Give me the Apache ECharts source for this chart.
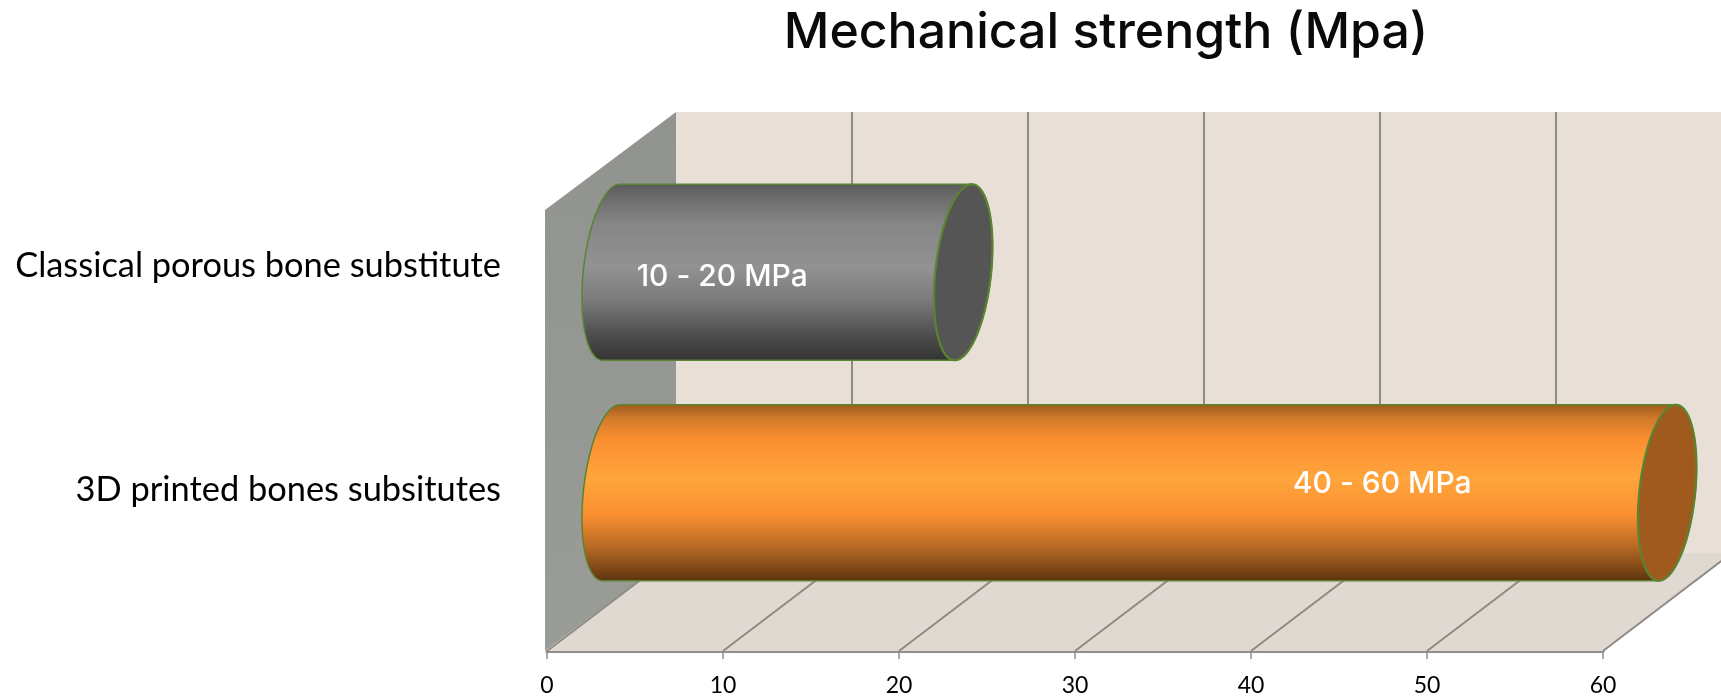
<!DOCTYPE html>
<html><head><meta charset="utf-8">
<style>html,body{margin:0;padding:0;background:#fff}#c{width:1721px;height:696px}</style>
<script src="https://cdn.jsdelivr.net/npm/echarts@6/dist/echarts.min.js"></script>
</head><body><div id="c"></div>
<script>
const titleText = 'Mechanical strength (Mpa)';
const categories = ['Classical porous bone substitute', '3D printed bones subsitutes'];
const strength = [20, 60];
const rangeLabels = ['10 - 20 MPa', '40 - 60 MPa'];
const xTicks = [0, 10, 20, 30, 40, 50, 60];

const DX = 129, DY = 98;           // 3D depth of the chart box
const HALF_W = 28, TILT = 8.5;     // cylinder end ellipse
const BAR_H = 176;
const labelBack = [241, 285], labelDy = [5, -9];
const fills = [
  { end:'#555555', stops:[[0,'#5a5a5a'],[.08,'#6c6c6c'],[.22,'#858585'],[.47,'#929292'],[.66,'#7a7a7a'],[.85,'#4e4e4e'],[1,'#333333']] },
  { end:'#A05A1E', stops:[[0,'#9c5a1e'],[.08,'#d07a2a'],[.2,'#fb8f30'],[.42,'#ffa53c'],[.62,'#fc8f30'],[.8,'#b96b25'],[1,'#5c330f']] }
];
const EDGE = '#5b8431';

function halfEllipse(cx, cy, from, to) {
  const pts = [];
  for (let d = from; d <= to + 1e-6; d += 3) {
    const t = d * Math.PI / 180;
    pts.push([cx + HALF_W * Math.cos(t) - TILT * Math.sin(t), cy + BAR_H / 2 * Math.sin(t)]);
  }
  return pts;
}

function renderBox(params, api) {
  const cs = params.coordSys;
  const x0 = cs.x, x1 = cs.x + cs.width, top = cs.y, bot = cs.y + cs.height;
  const line = { stroke:'#8f8a82', lineWidth:2 };
  const children = [
    { type:'rect', shape:{ x:x0 + DX, y:top - DY, width:cs.width + 10, height:cs.height }, style:{ fill:'#e8e0d7' } },
    { type:'polygon', shape:{ points:[[x0, bot],[x1, bot],[x1 + DX, bot - DY],[x0 + DX, bot - DY]] }, style:{ fill:'#e0d9d2' } },
    { type:'polygon', shape:{ points:[[x0 - 2, top],[x0 + DX, top - DY],[x0 + DX, bot - DY],[x0 - 2, bot]] },
      style:{ fill:new echarts.graphic.LinearGradient(0, 0, 0, 1, [{ offset:0, color:'#90938e' },{ offset:1, color:'#999c97' }]) } }
  ];
  xTicks.forEach(v => {
    const x = api.coord([v, 0])[0];
    if (v > 0) children.push({ type:'line', shape:{ x1:x + DX, y1:top - DY, x2:x + DX, y2:bot - DY }, style:line });
    children.push({ type:'line', shape:{ x1:x, y1:bot, x2:x + DX, y2:bot - DY }, style:line });
  });
  return { type:'group', children };
}

function renderCylinder(params, api) {
  const i = params.dataIndex;
  const p0 = api.coord([0, api.value(1)]);
  const p1 = api.coord([api.value(0), api.value(1)]);
  const cx0 = p0[0] + DX / 2 - 0.3, cx1 = p1[0] + DX / 2 - 0.3, cy = p0[1] - DY / 2 + 1;
  const f = fills[i];
  const body = halfEllipse(cx0, cy, 90, 270).concat(halfEllipse(cx1, cy, -90, 90));
  const grad = new echarts.graphic.LinearGradient(0, 0, 0, 1, f.stops.map(s => ({ offset:s[0], color:s[1] })));
  return { type:'group', children:[
    { type:'polygon', shape:{ points:body }, style:{ fill:grad, stroke:EDGE, lineWidth:1.5 } },
    { type:'polygon', shape:{ points:halfEllipse(cx1, cy, 0, 357) }, style:{ fill:f.end, stroke:EDGE, lineWidth:2.2 } },
    { type:'text', x:cx1 - labelBack[i], y:cy + labelDy[i],
      style:{ text:rangeLabels[i], fill:'#ffffff', font:'500 30px Inter', align:'center', verticalAlign:'middle' } }
  ]};
}

const chart = echarts.init(document.getElementById('c'), null, { renderer:'canvas' });
chart.setOption({
  animation:false,
  title:{ text:titleText, left:1101, top:3, textAlign:'center',
    textStyle:{ fontFamily:'Inter', fontSize:50, fontWeight:500, color:'#0a0a0a' } },
  grid:[
    { left:547, top:210, width:1056, height:441, outerBoundsMode:'none' },
    { left:547, top:154, width:1056, height:448, outerBoundsMode:'none' }
  ],
  xAxis:[
    { type:'value', gridIndex:0, min:0, max:60, interval:10,
      splitLine:{ show:false },
      axisLine:{ show:true, lineStyle:{ color:'#8f8f8f', width:3 } },
      axisTick:{ show:true, length:8, lineStyle:{ color:'#8f8f8f', width:1.5 } },
      axisLabel:{ color:'#000', fontFamily:'Lato', fontSize:23, margin:23 } },
    { type:'value', gridIndex:1, min:0, max:60, interval:10, show:false }
  ],
  yAxis:[
    { type:'category', gridIndex:0, inverse:true, data:categories, show:false },
    { type:'category', gridIndex:1, inverse:true, data:categories,
      axisLine:{ show:false }, axisTick:{ show:false }, splitLine:{ show:false },
      axisLabel:{ color:'#000', fontFamily:'Lato', fontSize:34.4, margin:46 } }
  ],
  series:[
    { type:'custom', name:'box', silent:true, z:1, renderItem:renderBox, data:[[0,0]], encode:{ x:0, y:1 } },
    { type:'custom', name:'Mechanical strength', z:2, renderItem:renderCylinder,
      data:strength.map((v, i) => [v, i]), encode:{ x:0, y:1 } }
  ]
});
</script></body></html>
